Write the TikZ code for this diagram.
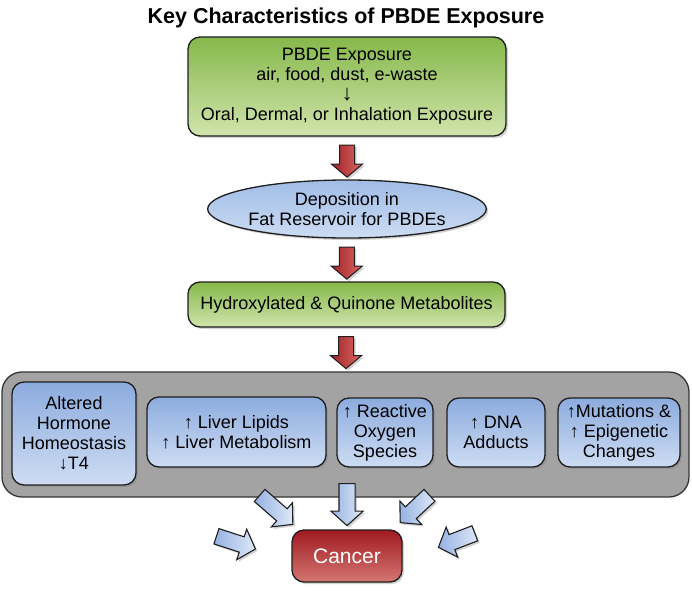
\documentclass[tikz,border=0pt]{standalone}
\usepackage{fontspec}
\setmainfont{Liberation Sans}
\usetikzlibrary{shapes.geometric,shapes.arrows,shadows,calc}
\definecolor{greentop}{RGB}{134,184,74}
\definecolor{greenbot}{RGB}{208,228,172}
\definecolor{elltop}{RGB}{160,188,230}
\definecolor{ellbot}{RGB}{204,220,243}
\definecolor{bluetop}{RGB}{140,172,222}
\definecolor{bluebot}{RGB}{206,220,243}
\definecolor{greyfill}{RGB}{163,163,163}
\definecolor{redtop}{RGB}{160,34,38}
\definecolor{redbot}{RGB}{218,104,100}
\definecolor{cantop}{RGB}{160,26,32}
\definecolor{canbot}{RGB}{212,118,114}
\definecolor{arrlight}{RGB}{222,232,248}
\definecolor{arrdark}{RGB}{150,178,226}
\definecolor{edge}{RGB}{30,30,30}
\begin{document}
\begin{tikzpicture}[x=1pt,y=-1pt,
  shade/.style={drop shadow={opacity=0.35,shadow xshift=2pt,shadow yshift=-2pt}},
  box/.style={draw=edge, line width=1.3pt, rounded corners=12pt, align=center,
    inner sep=0pt, shade, font=\fontsize{18}{20}\selectfont},
  greenbox/.style={box, top color=greentop, bottom color=greenbot},
  bluebox/.style={box, top color=bluetop, bottom color=bluebot},
  ellnode/.style={ellipse, draw=edge, line width=1.3pt, inner sep=0pt, align=center,
    top color=elltop, bottom color=ellbot, shade, font=\fontsize{18}{20}\selectfont},
  greybox/.style={draw=edge!90, line width=1.3pt, rounded corners=20pt, fill=greyfill, inner sep=0pt},
  cancerbox/.style={box, top color=cantop, bottom color=canbot, text=white,
    font=\fontsize{21}{24}\selectfont},
  redarrow/.style={single arrow, draw=edge, line width=1pt, minimum height=32pt,
    minimum width=31pt, inner xsep=0pt, inner ysep=7pt, single arrow head extend=8pt,
    single arrow tip angle=100, left color=redtop, right color=redbot, shade},
  bluearrow/.style={single arrow, draw=edge, line width=1.1pt, minimum width=31pt,
    inner xsep=0pt, inner ysep=7.5pt, single arrow head extend=8pt,
    single arrow tip angle=96, left color=arrdark, right color=arrlight, shade}
]
\useasboundingbox (0,0) rectangle (692,591);

\node[font=\bfseries\fontsize{21.5}{24}\selectfont] (title) at (346,18) {Key Characteristics of PBDE Exposure};

\node[greenbox, minimum width=318pt, minimum height=99pt] (expo) at (347,86.5)
  {PBDE Exposure\\air, food, dust, e-waste\\{\fontsize{22}{20}\selectfont ↓}\\Oral, Dermal, or Inhalation Exposure};

\node[ellnode, minimum width=268pt, minimum height=58pt] (fat) at (347,209)
  {Deposition in\\Fat Reservoir for PBDEs};

\node[greenbox, minimum width=317pt, minimum height=45pt] (meta) at (346.5,304.5)
  {Hydroxylated \& Quinone Metabolites};

\node[greybox, minimum width=687pt, minimum height=125pt] (effects) at (345.5,434.5) {};

\node[bluebox, minimum width=124pt, minimum height=103pt] (horm) at (74,433.5)
  {Altered\\Hormone\\Homeostasis\\↓T4};
\node[bluebox, minimum width=179pt, minimum height=70pt] (liver) at (236.5,432)
  {↑ Liver Lipids\\↑ Liver Metabolism};
\node[bluebox, minimum width=96pt, minimum height=69pt] (ros) at (385,432.5)
  {↑ Reactive\\Oxygen\\Species};
\node[bluebox, minimum width=98pt, minimum height=69pt] (dna) at (496,432.5)
  {↑ DNA\\Adducts};
\node[bluebox, minimum width=122pt, minimum height=69pt] (mut) at (619,432.5)
  {↑Mutations \&\\↑ Epigenetic\\Changes};

\node[cancerbox, minimum width=110pt, minimum height=52pt] (cancer) at (347,556) {Cancer};

\node[redarrow, rotate=-90] (r1) at ($(expo.south)!0.5!(fat.north)$) {};
\node[redarrow, rotate=-90] (r2) at ($(fat.south)!0.5!(meta.north)$) {};
\node[redarrow, rotate=-90] (r3) at ($(meta.south)!0.5!(effects.north)$) {};

\node[bluearrow, minimum height=42pt, rotate=-90] (b1) at (347,501) {};
\node[bluearrow, minimum height=44pt, rotate=-41] (b2) at (273.5,507.5) {};
\node[bluearrow, minimum height=40pt, rotate=-137] (b3) at (417.5,506.5) {};
\node[bluearrow, minimum height=41pt, rotate=-18] (b4) at (232.5,541.5) {};
\node[bluearrow, minimum height=39pt, rotate=-159] (b5) at (460,539) {};
\end{tikzpicture}
\end{document}
